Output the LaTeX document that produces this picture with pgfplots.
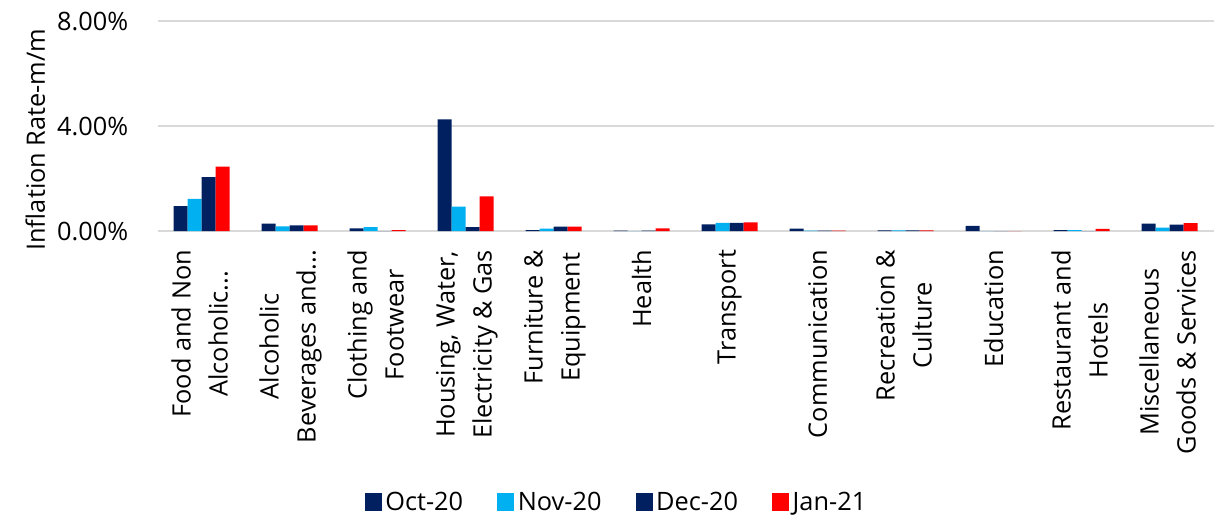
\documentclass[border=0pt]{standalone}
\usepackage{pgfplots}
\pgfplotsset{compat=1.18}
\usepackage{fontspec}
\setmainfont{Open Sans}
\definecolor{navy}{HTML}{002060}
\definecolor{skyb}{HTML}{00B0F0}
\definecolor{redc}{HTML}{FF0000}
\definecolor{gridc}{HTML}{D9D9D9}
\newcommand\trd{.\kern0pt.\kern0pt.}
\newcommand\two[2]{\begin{tabular}{@{}c@{}}#1\\#2\end{tabular}}
\begin{document}
\begin{tikzpicture}
\useasboundingbox (-118.3pt,-216pt) rectangle (793.7pt,173.25pt);
\begin{axis}[
  scale only axis,
  width=792pt, height=157.5pt,
  ybar=0pt, bar width=10.5pt,
  xmin=-0.5, xmax=11.5,
  ymin=0, ymax=8,
  xtick={0,1,2,3,4,5,6,7,8,9,10,11},
  xticklabels={{\two{Food and Non}{Alcoholic\trd}},{\two{Alcoholic}{Beverages and\trd}},{\two{Clothing and}{Footwear}},{\two{Housing, Water,}{Electricity \& Gas}},{\two{Furniture \&}{Equipment}},{Health},{Transport},{Communication},{\two{Recreation \&}{Culture}},{Education},{\two{Restaurant and}{Hotels}},{\two{Miscellaneous}{Goods \& Services}}},
  xticklabel style={rotate=90, anchor=east, inner sep=0pt, font=\fontsize{19}{27.75}\selectfont},
  xticklabel shift=14pt,
  ytick={0,4,8},
  yticklabels={0.00\%,4.00\%,8.00\%},
  yticklabel style={anchor=east, inner sep=0pt, xshift=-22pt, font=\fontsize{19}{23}\selectfont},
  major tick length=0pt,
  ymajorgrids, grid style={gridc, line width=1.2pt},
  axis lines*=left,
  y axis line style={draw=none},
  x axis line style={gridc, line width=1.2pt, -},
  ylabel={Inflation Rate-m/m},
  every axis y label/.style={at={(axis description cs:-0.116,0.435)}, rotate=90, anchor=center, font=\fontsize{19}{23}\selectfont},
  legend columns=4,
  legend style={at={(0.435,-1.29)}, anchor=center, draw=none, fill=none, font=\fontsize{19}{23}\selectfont,
    /tikz/every even column/.append style={column sep=23pt},
    nodes={inner sep=2.5pt}},
  legend image code/.code={\fill[#1] (0pt,-6.5pt) rectangle (13pt,6.5pt);},
  clip=false,
]
\addplot[fill=navy, draw=none] coordinates {(0,0.95) (1,0.28) (2,0.10) (3,4.25) (4,0.03) (5,0.01) (6,0.25) (7,0.09) (8,0.02) (9,0.20) (10,0.03) (11,0.28)};
\addplot[fill=skyb, draw=none] coordinates {(0,1.22) (1,0.18) (2,0.15) (3,0.93) (4,0.09) (5,0.0) (6,0.31) (7,0.01) (8,0.02) (9,0.0) (10,0.03) (11,0.13)};
\addplot[fill=navy, draw=none] coordinates {(0,2.05) (1,0.21) (2,0.0) (3,0.15) (4,0.17) (5,0.01) (6,0.31) (7,0.01) (8,0.02) (9,0.0) (10,0.0) (11,0.24)};
\addplot[fill=redc, draw=none] coordinates {(0,2.45) (1,0.21) (2,0.03) (3,1.32) (4,0.17) (5,0.10) (6,0.33) (7,0.01) (8,0.02) (9,0.0) (10,0.08) (11,0.30)};
\legend{Oct-20,Nov-20,Dec-20,Jan-21}
\end{axis}
\end{tikzpicture}
\end{document}
